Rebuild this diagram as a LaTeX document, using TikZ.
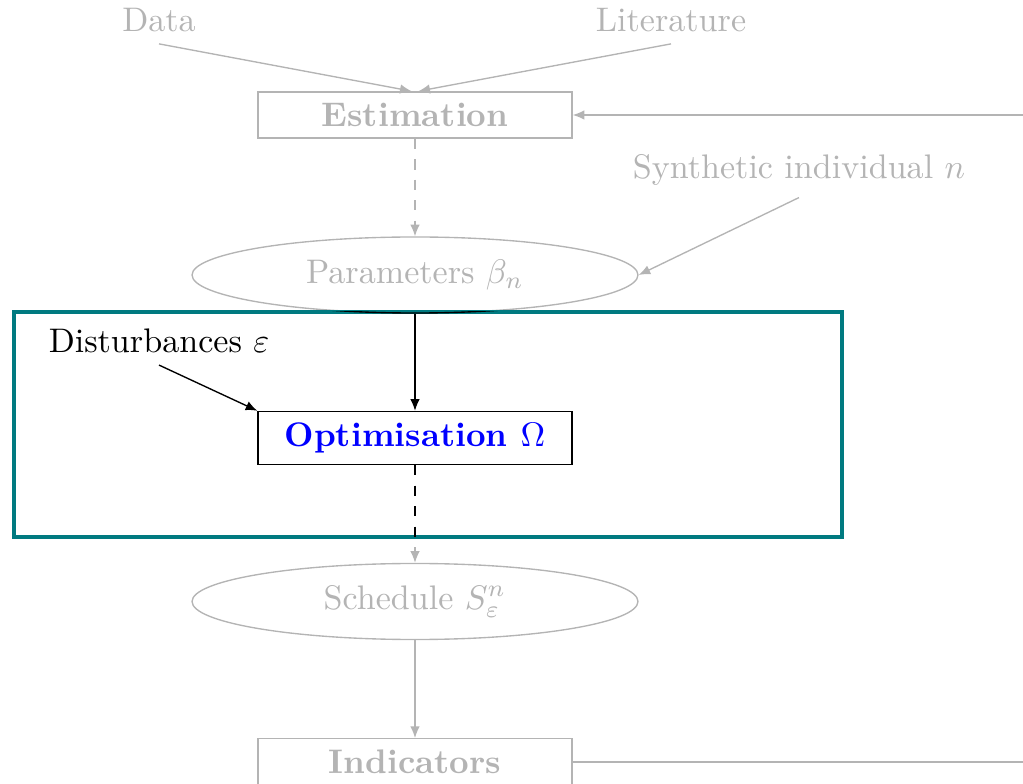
\documentclass[tikz,border=0pt]{standalone}
\usepackage{amsmath}
\usetikzlibrary{shapes.geometric,arrows.meta}
\definecolor{lgray}{RGB}{180,180,180}
\definecolor{boxteal}{RGB}{0,122,128}
\begin{document}
\begin{tikzpicture}[x=0.2933pt,y=-0.2933pt,
  faded/.style={text=lgray,draw=lgray},
  boxnode/.style={draw,rectangle,minimum width=92.1pt,font=\bfseries},
  ellnode/.style={draw,ellipse,minimum width=130.8pt,minimum height=22.3pt,inner sep=0pt},
  txt/.style={},
  arr/.style={-{Latex[length=3.4pt,width=2.8pt]}},
  grayline/.style={draw=lgray},
]
\useasboundingbox (0,0) rectangle (1023,784);
\clip (0,0) rectangle (1023,784);

% nodes
\node[txt,text=lgray] (data) at (159,20) {Data};
\node[txt,text=lgray] (lit) at (671,20) {Literature};
\node[boxnode,faded] (est) at (415,115) {Estimation};
\node[txt,text=lgray] (syn) at (799,170) {Synthetic individual $n$};
\node[ellnode,faded] (par) at (415,275) {Parameters $\beta_n$};
\node[txt,text=black] (dist) at (159,341) {Disturbances $\varepsilon$};
\node[boxnode,draw=black,text=blue] (opt) at (415,438) {Optimisation $\Omega$};
\node[ellnode,faded] (sched) at (415,601.5) {Schedule $S^n_\varepsilon$};
\node[boxnode,faded] (ind) at (415,762) {Indicators};
\coordinate (fb) at (1060,438);

% gray connectors
\draw[arr,grayline] (data.south) -- ([xshift=-1pt]est.north);
\draw[arr,grayline] (lit.south) -- ([xshift=1pt]est.north);
\draw[arr,grayline,dashed] (est) -- (par);
\draw[arr,grayline] (syn.south) -- (par.east);
\draw[arr,grayline,dashed] (opt) -- (sched);
\draw[arr,grayline] (sched) -- (ind);
\draw[arr,grayline] (ind.east) -| (fb) |- (est.east);

% highlight frame
\draw[draw=boxteal,line width=1.2pt] (14,312) rectangle (842,537);
\begin{scope}
  \clip (14,312) rectangle (842,537);
  \node[ellnode,draw=black] at (par) {};
  \draw[black,dashed] (opt) -- (sched);
\end{scope}

% black connectors
\draw[arr,black] (par) -- (opt);
\draw[arr,black] (dist.south) -- (opt.north west);
\end{tikzpicture}
\end{document}
